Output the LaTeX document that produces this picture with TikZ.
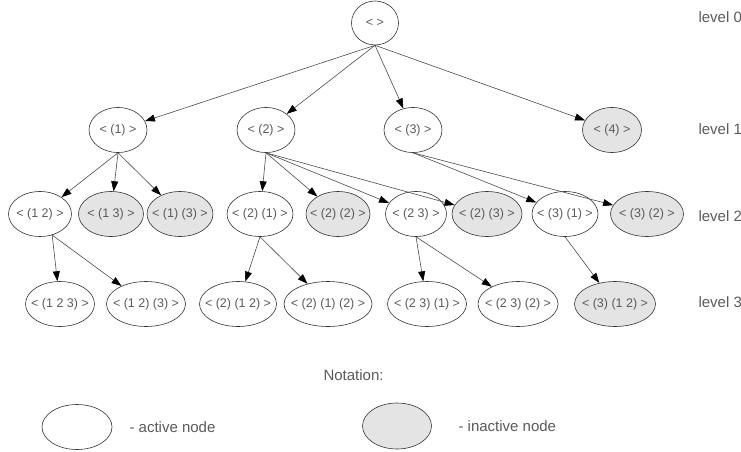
\documentclass[tikz,border=0pt]{standalone}
\usepackage{fontspec}
\setmainfont{Liberation Sans}
\usepackage{tikz}
\usetikzlibrary{arrows.meta,shapes.geometric}
\definecolor{offgray}{HTML}{E4E4E4}
\definecolor{txtgray}{HTML}{5A5A5A}

\begin{document}
\begin{tikzpicture}
[x=1pt,y=-1pt
,st/.style={ellipse,draw=black!80,line width=0.6pt,text=txtgray,minimum width=#1,minimum height=45pt,inner xsep=-7pt,inner ysep=0pt,font=\fontsize{12.5}{14}\selectfont}
,st/.default=66pt
,off/.style={st=#1,fill=offgray}
,off/.default=66pt
,be/.style={draw=black!70,line width=0.6pt,arrows={-Triangle[length=10pt,width=7pt,color=black]}}
,lvl/.style={anchor=west,text=txtgray,font=\fontsize{15}{18}\selectfont}
]
\useasboundingbox (0,0) rectangle (741,452);
% level 0
\node[st=47pt,minimum height=44pt] (n0) at (375,23) {< >};
% level 1
\node[st=58pt] (n1) at (118,130) {< (1) >};
\node[st=58pt] (n2) at (266,130) {< (2) >};
\node[st=58pt] (n3) at (413,130) {< (3) >};
\node[off=59pt] (n4) at (612,130) {< (4) >};
% level 2
\node[st=63pt] (n12) at (40,214) {< (1 2) >};
\node[off=65pt] (n13) at (111,214) {< (1 3) >};
\node[off] (n1x3) at (180,214) {< (1) (3) >};
\node[st] (n2x1) at (260,214) {< (2) (1) >};
\node[off=64pt] (n2x2) at (338,214) {< (2) (2) >};
\node[st=61pt] (n23) at (416,214) {< (2 3) >};
\node[off=70pt] (n2x3) at (487,214) {< (2) (3) >};
\node[st] (n3x1) at (565,214) {< (3) (1) >};
\node[off=73pt] (n3x2) at (647,214) {< (3) (2) >};
% level 3
\node[st=69pt] (n123) at (60,304) {< (1 2 3) >};
\node[st=79pt] (n12x3) at (146,304) {< (1 2) (3) >};
\node[st=77pt] (n2x12) at (238,304) {< (2) (1 2) >};
\node[st=88pt] (n2x1x2) at (328,304) {< (2) (1) (2) >};
\node[st=79pt] (n23x1) at (427,304) {< (2 3) (1) >};
\node[st=80pt] (n23x2) at (518,304) {< (2 3) (2) >};
\node[off=81pt] (n3x12) at (615,304) {< (3) (1 2) >};
% edges
\draw[be] (n0.south) -- (n1);
\draw[be] (n0.south) -- (n2);
\draw[be] (n0.south) -- (n3);
\draw[be] (n0.south) -- (n4);
\draw[be] (n1.south) -- (n12);
\draw[be] (n1.south) -- (n13);
\draw[be] (n1.south) -- (n1x3);
\draw[be] (n2.south) -- (n2x1);
\draw[be] (n2.south) -- (n2x2);
\draw[be] (n2.south) -- (n23);
\draw[be] (n2.south) -- (n2x3);
\draw[be] (n3.south) -- (n3x1);
\draw[be] (n3.south) -- (n3x2);
\draw[be] (n12.-60) -- (n123);
\draw[be] (n12.-60) -- (n12x3);
\draw[be] (n2x1.south) -- (n2x12);
\draw[be] (n2x1.south) -- (n2x1x2);
\draw[be] (n23.south) -- (n23x1);
\draw[be] (n23.south) -- (n23x2);
\draw[be] (n3x1.south) -- (n3x12);
% level labels
\node[lvl] (l0) at (695,17) {level 0};
\node[lvl] (l1) at (695,129) {level 1};
\node[lvl] (l2) at (695,216) {level 2};
\node[lvl] (l3) at (695,302) {level 3};
% notation
\node[lvl] (note) at (320,375) {Notation:};
\node[st=70pt] (kact) at (77,427) {};
\node[lvl] (tact) at (126,427) {- active node};
\node[off=69pt,minimum height=46pt] (koff) at (397,426) {};
\node[lvl] (toff) at (455,426) {- inactive node};
\end{tikzpicture}
\end{document}
